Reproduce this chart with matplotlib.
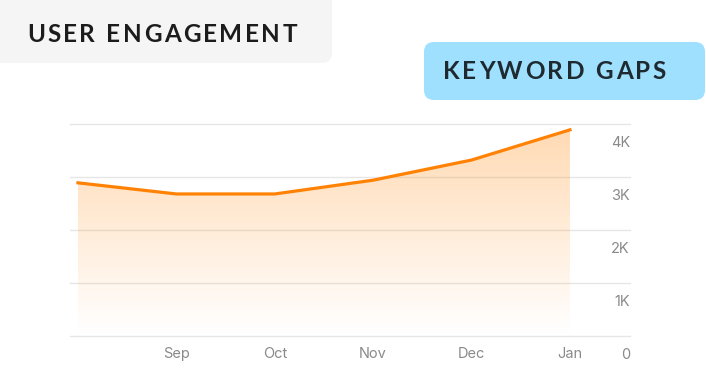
import numpy as np
import matplotlib
matplotlib.use("Agg")
import matplotlib.pyplot as plt
from matplotlib.patches import FancyBboxPatch, Polygon
import matplotlib.transforms as mtransforms

months = ["Aug", "Sep", "Oct", "Nov", "Dec", "Jan"]
shown_labels = ["", "Sep", "Oct", "Nov", "Dec", "Jan"]
values = [2890, 2680, 2680, 2940, 3320, 3890]
yticks = [0, 1000, 2000, 3000, 4000]
ytick_labels = ["0", "1K", "2K", "3K", "4K"]
title_left = "USER ENGAGEMENT"
title_right = "KEYWORD GAPS"

W, H = 706, 384
fig = plt.figure(figsize=(W / 100, H / 100), dpi=100)
fig.patch.set_facecolor("white")

def px2fig(x0, y0_top, x1, y1_top):
    return [x0 / W, 1 - y1_top / H, (x1 - x0) / W, (y1_top - y0_top) / H]

# axes: x from 70 to 630 px, y from 124 (4K) to 336 (0)
ax = fig.add_axes(px2fig(70, 124, 630, 336))
ax.set_facecolor("none")
ax.set_xlim(-0.081, 5.61)
ax.set_ylim(0, 4000)
for s in ax.spines.values():
    s.set_visible(False)
ax.set_xticks([])
ax.set_yticks([])

for v in yticks:
    ax.axhline(v, color="#e6e6e6", lw=1.0, zorder=1, clip_on=False)

x = np.arange(len(months))
# gradient fill under the line
grad = np.zeros((256, 1, 4))
grad[:, 0, 0] = 1.0
grad[:, 0, 1] = 0.52
grad[:, 0, 2] = 0.0
grad[:, 0, 3] = np.linspace(0.0, 0.3, 256)
im = ax.imshow(grad, aspect="auto", extent=[x[0], x[-1], 0, max(values)],
               origin="lower", zorder=2)
poly = Polygon(np.column_stack([np.r_[x, x[-1], x[0]], np.r_[values, 0, 0]]),
               closed=True, transform=ax.transData, facecolor="none", edgecolor="none")
ax.add_patch(poly)
im.set_clip_path(poly)

ax.plot(x, values, color="#ff8205", lw=2.3, zorder=3, solid_joinstyle="miter")

tick_font = dict(family=["Inter", "DejaVu Sans"], size=10.5, color="#8a8a8a")
# x labels
xoff = mtransforms.ScaledTranslation(0, -18 / 100, fig.dpi_scale_trans)
for xi, lab in zip(x, shown_labels):
    ax.text(xi, 0, lab, ha="center", va="center",
            transform=ax.transData + xoff, **tick_font)
# y labels (right aligned at right edge, below gridline)
yoff = mtransforms.ScaledTranslation(0, -19 / 100, fig.dpi_scale_trans)
blend = mtransforms.blended_transform_factory(ax.transAxes, ax.transData)
for v, lab in zip(yticks, ytick_labels):
    ax.text(1.0, v, lab, ha="right", va="center",
            transform=blend + yoff, **tick_font)

# title boxes
def box(x0, y0, x1, y1, color, r=10):
    p = FancyBboxPatch((x0 + r, H - y1 + r), (x1 - x0) - 2 * r, (y1 - y0) - 2 * r,
                       boxstyle=f"round,pad={r}", transform=None,
                       facecolor=color, edgecolor="none", zorder=0)
    fig.patches.append(p)

box(-12, -12, 332, 63, "#f5f5f5")
box(424, 42, 705, 100, "#9fe0ff")

fig.canvas.draw()
renderer = fig.canvas.get_renderer()

def spaced_text(s, x_start, x_end, y_base, size, color):
    fp = dict(family=["Lato", "DejaVu Sans"], size=size, weight="bold", color=color)
    widths = []
    for ch in s:
        if ch == " ":
            widths.append(size * 1.389 * 0.26)
        else:
            t = fig.text(0, 0, ch, **fp)
            bb = t.get_window_extent(renderer)
            widths.append(bb.width)
            t.remove()
    natural = sum(widths)
    sp = (x_end - x_start - natural) / (len(s) - 1)
    cur = x_start
    for ch, w in zip(s, widths):
        if ch != " ":
            fig.text(cur / W, 1 - y_base / H, ch, ha="left", va="baseline", **fp)
        cur += w + sp

spaced_text(title_left, 27, 297, 42, 17.5, "#1c1c1c")
spaced_text(title_right, 443, 666, 79, 17.5, "#1f2a30")

fig.savefig("out.png", dpi=100, facecolor="white")
